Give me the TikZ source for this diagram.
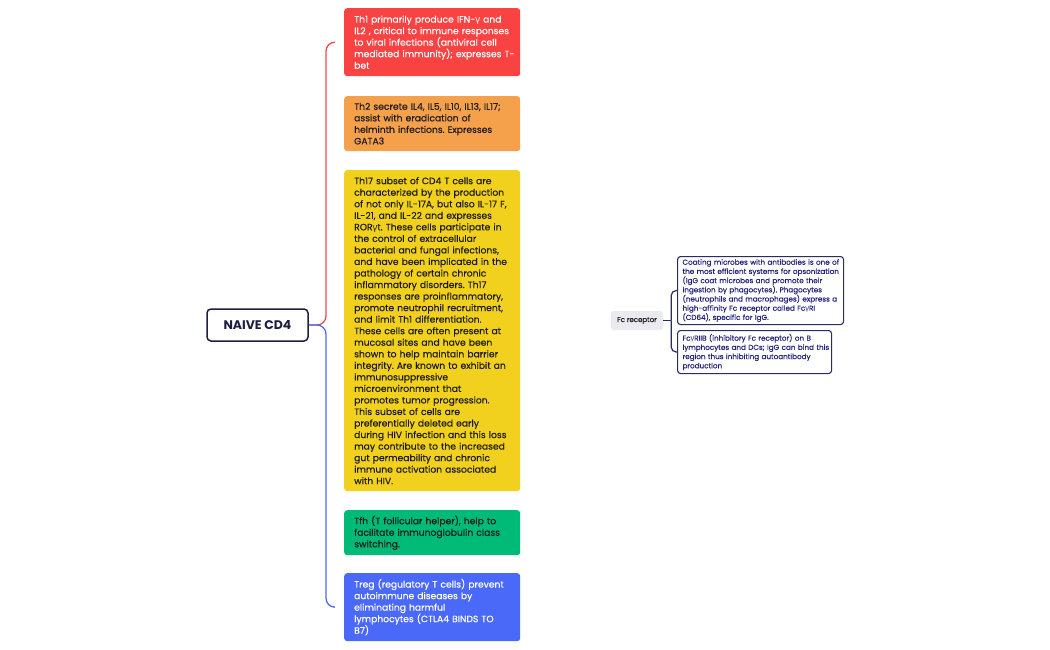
\documentclass[tikz,border=0pt]{standalone}
\usepackage{fontspec}
\setmainfont{Poppins}
\newfontfamily\med{Poppins}[FakeBold=0.35]
\newfontfamily\gk{Noto Sans}
\newcommand{\gam}{{\gk γ}}
\newcommand{\Lx}[1]{\mbox{#1}}
\definecolor{cred}{HTML}{F94343}
\definecolor{corange}{HTML}{F5A14C}
\definecolor{cyellow}{HTML}{F2D11E}
\definecolor{cgreen}{HTML}{00BA78}
\definecolor{cblue}{HTML}{4B69F9}
\definecolor{lred}{HTML}{F24A4A}
\definecolor{lblue}{HTML}{4D6CF2}
\definecolor{cnavy}{HTML}{1E1E40}
\definecolor{bnavy}{HTML}{2B2B60}
\definecolor{tnavy}{HTML}{23237A}
\definecolor{cgray}{HTML}{EBEAF0}
\definecolor{cdark}{HTML}{1C1C1C}
\begin{document}
\begin{tikzpicture}[x=1pt,y=-1pt,
  leaf/.style={anchor=north west,rounded corners=3pt,minimum width=176pt,inner xsep=10pt,inner ysep=0pt,text width=156pt,align=left,font=\med\fontsize{9.2}{11.54}\selectfont\frenchspacing},
  subleaf/.style={draw=bnavy,line width=1.1pt,fill=white,rounded corners=3pt,inner xsep=5pt,inner ysep=0pt,align=left,text=tnavy,font=\med\fontsize{7.2}{9.2}\selectfont\frenchspacing,anchor=north west},
  conn/.style={line width=1.3pt,rounded corners=9pt},
  subconn/.style={line width=1.2pt,draw=bnavy}
]
\useasboundingbox[fill=white] (0,0) rectangle (1050,650);

\node[draw=cnavy,line width=1.5pt,rounded corners=4pt,fill=white,minimum width=101pt,minimum height=32pt,inner sep=0pt,text=cnavy,font=\fontsize{12.5}{14}\selectfont\bfseries] (root) at (257.5,325) {NAIVE CD4};

\node[leaf,fill=cred,text=white,minimum height=68pt] (th1) at (344,8) {\Lx{Th1 primarily produce IFN-\gam{} and}\\\Lx{IL2 , critical to immune responses}\\\Lx{to viral infections (antiviral cell}\\\Lx{mediated immunity); expresses T-}\\\Lx{bet}};
\node[leaf,fill=corange,text=cdark,minimum height=55pt] (th2) at (344,96) {\Lx{Th2 secrete IL4, IL5, IL10, IL13, IL17;}\\\Lx{assist with eradication of}\\\Lx{helminth infections. Expresses}\\\Lx{GATA3}};
\node[leaf,fill=cyellow,text=cdark,minimum height=321pt] (th17) at (344,170) {\Lx{Th17 subset of CD4 T cells are}\\\Lx{characterized by the production}\\\Lx{of not only IL-17A, but also IL-17 F,}\\\Lx{IL-21, and IL-22 and expresses}\\\Lx{ROR\gam t. These cells participate in}\\\Lx{the control of extracellular}\\\Lx{bacterial and fungal infections,}\\\Lx{and have been implicated in the}\\\Lx{pathology of certain chronic}\\\Lx{inflammatory disorders. Th17}\\\Lx{responses are proinflammatory,}\\\Lx{promote neutrophil recruitment,}\\\Lx{and limit Th1 differentiation.}\\\Lx{These cells are often present at}\\\Lx{mucosal sites and have been}\\\Lx{shown to help maintain barrier}\\\Lx{integrity. Are known to exhibit an}\\\Lx{immunosuppressive}\\\Lx{microenvironment that}\\\Lx{promotes tumor progression.}\\\Lx{This subset of cells are}\\\Lx{preferentially deleted early}\\\Lx{during HIV infection and this loss}\\\Lx{may contribute to the increased}\\\Lx{gut permeability and chronic}\\\Lx{immune activation associated}\\\Lx{with HIV.}};
\node[leaf,fill=cgreen,text=cdark,minimum height=45pt] (tfh) at (344,510) {\Lx{Tfh (T follicular helper), help to}\\\Lx{facilitate immunoglobulin class}\\\Lx{switching.}};
\node[leaf,fill=cblue,text=white,minimum height=68pt] (treg) at (344,573) {\Lx{Treg (regulatory T cells) prevent}\\\Lx{autoimmune diseases by}\\\Lx{eliminating harmful}\\\Lx{lymphocytes (CTLA4 BINDS TO}\\\Lx{B7)}};

\draw[conn,draw=lred] (root.east) -| ([xshift=-18pt]th1.west) -- ([xshift=-9pt]th1.west);
\draw[conn,draw=lblue] (root.east) -| ([xshift=-18pt]treg.west) -- ([xshift=-9pt]treg.west);

\node[fill=cgray,rounded corners=3pt,minimum width=52pt,minimum height=19pt,inner sep=0pt,text=cdark,font=\med\fontsize{7}{8}\selectfont] (fc) at (637,320.5) {Fc receptor};

\node[subleaf,minimum width=166pt,minimum height=68pt,text width=156pt] (up) at (677,256) {\Lx{Coating microbes with antibodies is one of}\\\Lx{the most efficient systems for opsonization}\\\Lx{(IgG coat microbes and promote their}\\\Lx{ingestion by phagocytes). Phagocytes}\\\Lx{(neutrophils and macrophages) express a}\\\Lx{high-affinity Fc receptor called Fc\gam RI}\\\Lx{(CD64), specific for IgG.}};
\node[subleaf,minimum width=154pt,minimum height=43pt,text width=144pt] (low) at (677,330) {\Lx{Fc\gam RIIB (inhibitory Fc receptor) on B}\\\Lx{lymphocytes and DCs; IgG can bind this}\\\Lx{region thus inhibiting autoantibody}\\\Lx{production}};

\coordinate (fcj) at ([xshift=8pt]fc.east);
\draw[subconn] (fc.east) -- (fcj);
\draw[subconn,rounded corners=5pt] (up.west) -| (fcj);
\draw[subconn,rounded corners=5pt] (low.west) -| (fcj);
\end{tikzpicture}
\end{document}
